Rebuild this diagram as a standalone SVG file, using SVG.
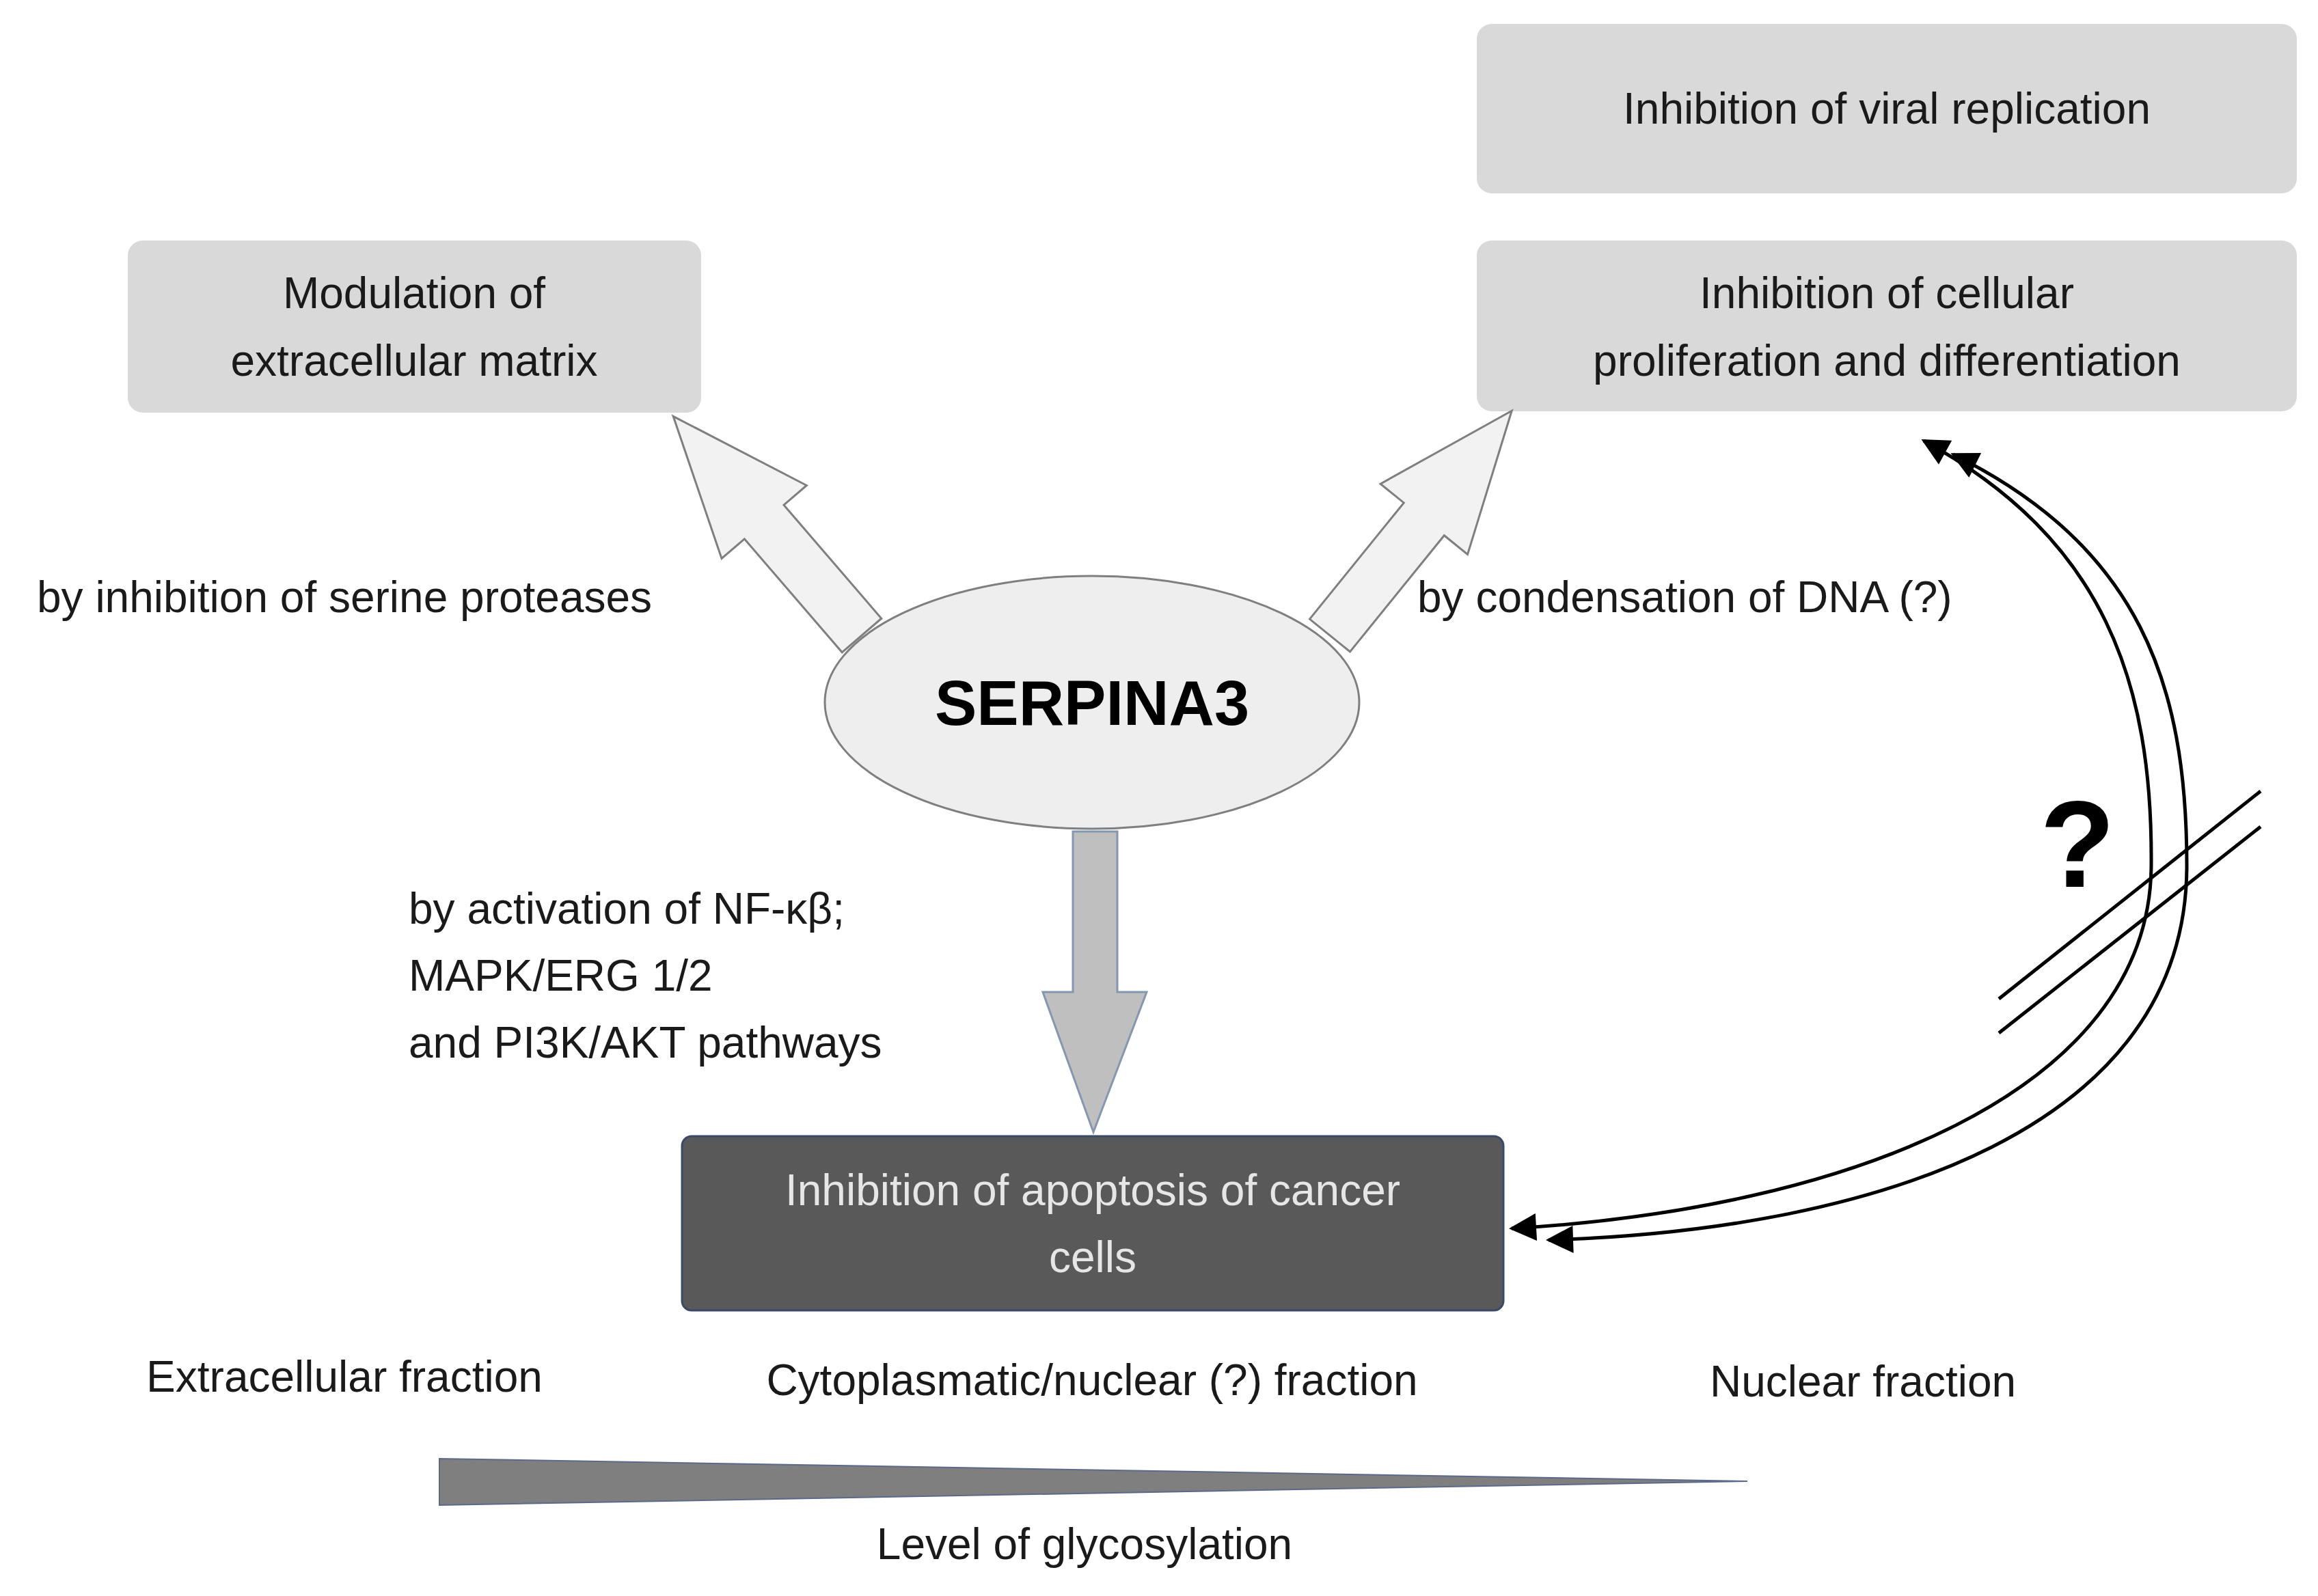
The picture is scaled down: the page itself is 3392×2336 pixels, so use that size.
<svg xmlns="http://www.w3.org/2000/svg" width="3392" height="2336" viewBox="0 0 3392 2336">
<style>
text{font-family:"Liberation Sans",Arial,sans-serif;font-size:64px;fill:#1a1a1a}
.c{text-anchor:middle}
.box{fill:#d9d9d9}
.curve{fill:none;stroke:#000;stroke-width:5}
</style>
<defs>
<marker id="ah" viewBox="0 0 10 10" refX="9" refY="5" markerWidth="48" markerHeight="40" markerUnits="userSpaceOnUse" orient="auto-start-reverse">
<path d="M0,0 L10,5 L0,10 Z" fill="#000"/>
</marker>
</defs>
<rect width="3392" height="2336" fill="#fff"/>
<g id="viral"><rect class="box" x="2161" y="35" width="1200" height="248" rx="22"/><text class="c" x="2761" y="181">Inhibition of viral replication</text></g>
<g id="cellular"><rect class="box" x="2161" y="352" width="1200" height="250" rx="22"/><text class="c" x="2761" y="451">Inhibition of cellular</text><text class="c" x="2761" y="550">proliferation and differentiation</text></g>
<g id="matrix"><rect class="box" x="187" y="352" width="839" height="252" rx="22"/><text class="c" x="606" y="451">Modulation of</text><text class="c" x="606" y="550">extracellular matrix</text></g>
<g id="connectors">
<polygon transform="translate(1261,930) rotate(-40.7)" points="-38,0 -38,-219 -82,-219 0,-423 82,-219 38,-219 38,0" fill="#f2f2f2" stroke="#7f7f7f" stroke-width="3"/>
<polygon transform="translate(1946,930) rotate(39)" points="-38,0 -38,-219 -82,-219 0,-423 82,-219 38,-219 38,0" fill="#f2f2f2" stroke="#7f7f7f" stroke-width="3"/>
<polygon points="1570,1217 1635,1217 1635,1452 1678,1452 1600,1657 1526,1452 1570,1452" fill="#bfbfbf" stroke="#8497b0" stroke-width="3"/>
<path class="curve" marker-start="url(#ah)" marker-end="url(#ah)" d="M2815,645 C3080,790 3150,1000 3148,1267 C3146,1600 2700,1770 2212,1798"/>
<path class="curve" marker-start="url(#ah)" marker-end="url(#ah)" d="M2858,665 C3130,800 3200,1000 3200,1267 C3200,1650 2750,1800 2266,1815"/>
<line x1="2925" y1="1462" x2="3308" y2="1158" stroke="#000" stroke-width="5"/>
<line x1="2925" y1="1512" x2="3308" y2="1210" stroke="#000" stroke-width="5"/>
</g>
<g id="serpina3"><ellipse cx="1598" cy="1028" rx="391" ry="185" fill="#eeeeee" stroke="#7f7f7f" stroke-width="3"/><text class="c" x="1598" y="1061" style="font-size:92px;font-weight:bold;fill:#000">SERPINA3</text></g>
<g id="apoptosis"><rect x="998" y="1663" width="1202" height="255" rx="14" fill="#595959" stroke="#3b4a66" stroke-width="3"/><text class="c" x="1599" y="1764" style="fill:#e6e6e6">Inhibition of apoptosis of cancer</text><text class="c" x="1599" y="1862" style="fill:#e6e6e6">cells</text></g>
<g id="labels">
<text x="54" y="896">by inhibition of serine proteases</text>
<text x="2074" y="896">by condensation of DNA (?)</text>
<text x="598" y="1352">by activation of NF-κβ;</text>
<text x="598" y="1450">MAPK/ERG 1/2</text>
<text x="598" y="1548">and PI3K/AKT pathways</text>
<text class="c" x="3040" y="1298" style="font-size:180px;font-weight:bold;fill:#000">?</text>
<text class="c" x="504" y="2037">Extracellular fraction</text>
<text class="c" x="1598" y="2042">Cytoplasmatic/nuclear (?) fraction</text>
<text class="c" x="2726" y="2044">Nuclear fraction</text>
<polygon points="643,2135 2557,2168 643,2203" fill="#7f7f7f" stroke="#5a6a8a" stroke-width="2"/>
<text class="c" x="1587" y="2282">Level of glycosylation</text>
</g>
</svg>
